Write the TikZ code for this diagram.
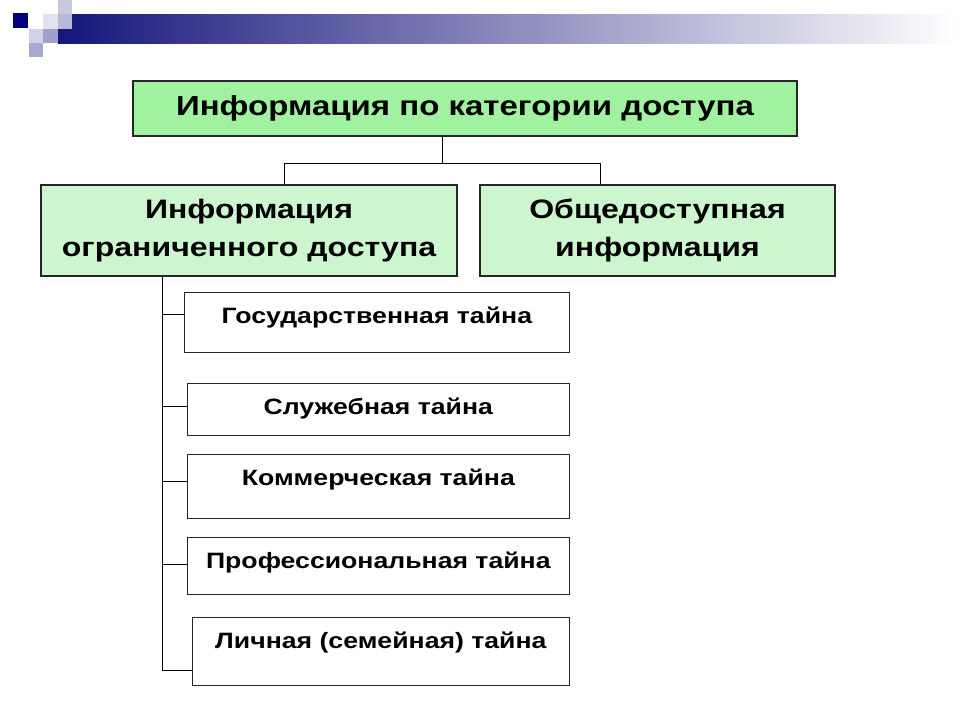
\documentclass[tikz,border=0pt]{standalone}
\usepackage{fontspec}
\setmainfont[FakeStretch=1.2]{Liberation Sans}
\definecolor{barnavy}{RGB}{22,22,124}
\definecolor{topgreen}{RGB}{160,242,160}
\definecolor{subgreen}{RGB}{206,246,206}
\begin{document}
\begin{tikzpicture}[x=1pt,y=-1pt,>=latex,
	catnode/.style={draw=black!85, line width=1.3pt, align=center, inner sep=0pt, font=\bfseries\fontsize{26.7}{38}\selectfont},
	secretnode/.style={draw=black!85, line width=1.3pt, anchor=north east, inner xsep=0pt, inner ysep=11pt, text height=20pt, font=\bfseries\fontsize{22.2}{25}\selectfont},
	linkline/.style={line width=1pt}
	]
	\useasboundingbox (0,0) rectangle (960,720);
	\shade[left color=barnavy, right color=white] (58,14) rectangle (958,43);
	\fill[color={rgb,255:red,200;green,200;blue,224}] (58,0) rectangle +(14,14);
	\fill[color={rgb,255:red,226;green,226;blue,238}] (43,14) rectangle +(15,15);
	\fill[color={rgb,255:red,184;green,184;blue,216}] (58,14) rectangle +(14,15);
	\fill[color={rgb,255:red,210;green,210;blue,230}] (29,29) rectangle +(14,14);
	\fill[color={rgb,255:red,160;green,160;blue,204}] (43,29) rectangle +(15,14);
	\fill[color={rgb,255:red,168;green,168;blue,208}] (29,43) rectangle +(14,14);
	\fill[color={rgb,255:red,0;green,0;blue,128}] (13,13) rectangle +(15,15);
	\path
	+(465,108.5) node[catnode,fill=topgreen,minimum width=664,minimum height=55,font=\bfseries\fontsize{27.5}{37}\selectfont] (access) {Информация по категории доступа}
	+(249,230.5) node[catnode,fill=subgreen,minimum width=416,minimum height=91] (limited) {Информация\\ограниченного доступа}
	+(657.5,230.5) node[catnode,fill=subgreen,minimum width=355,minimum height=91] (public) {Общедоступная\\информация}
	+(570,292) node[secretnode,minimum width=385,text depth=18pt] (state) {Государственная тайна}
	+(570,383) node[secretnode,minimum width=382,text depth=10pt] (service) {Служебная тайна}
	+(570,454) node[secretnode,minimum width=382,text depth=22pt] (trade) {Коммерческая тайна}
	+(570,537) node[secretnode,minimum width=382,text depth=15pt] (prof) {Профессиональная тайна}
	+(570,617) node[secretnode,minimum width=377,text depth=26pt] (family) {Личная (семейная) тайна}
	;
	\coordinate (fork) at (442,163);
	\coordinate (forkl) at (284,163);
	\coordinate (forkr) at (600,163);
	\coordinate (trunk) at (162,670);
	\draw[linkline] (fork |- access.south) -- (fork);
	\draw[linkline] (forkl |- limited.north) -- (forkl) -- (forkr) -- (forkr |- public.north);
	\draw[linkline] (trunk |- limited.south) -- (trunk) -- (trunk -| family.west);
	\draw[linkline] (162,314) -- (state.west |- 162,314);
	\draw[linkline] (162,406) -- (service.west |- 162,406);
	\draw[linkline] (162,481) -- (trade.west |- 162,481);
	\draw[linkline] (162,564) -- (prof.west |- 162,564);
	\end{tikzpicture}
\end{document}
